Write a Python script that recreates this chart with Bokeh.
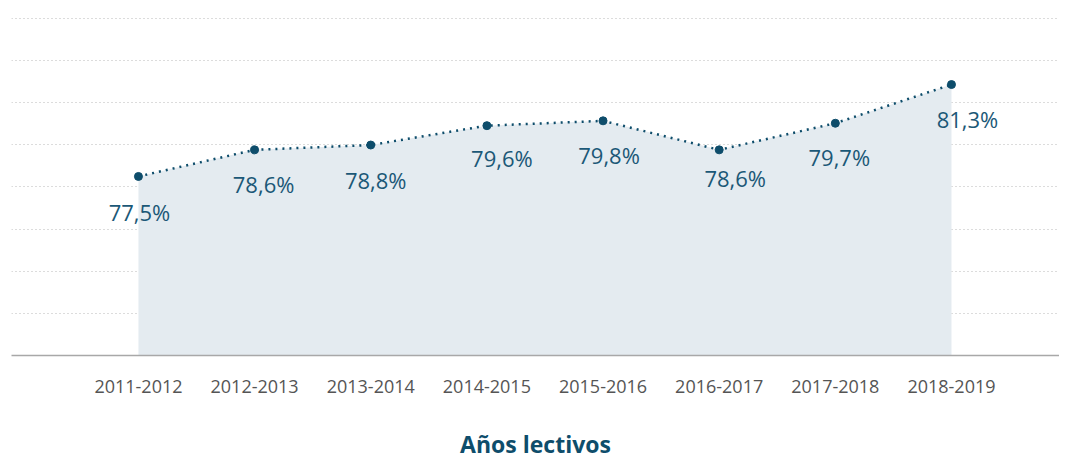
from bokeh.plotting import figure
from bokeh.models import ColumnDataSource, FixedTicker, Range1d, LabelSet
from bokeh.core.properties import value
from bokeh.embed import file_html
from bokeh.resources import INLINE

# ---- data ----
years = ["2011-2012", "2012-2013", "2013-2014", "2014-2015",
         "2015-2016", "2016-2017", "2017-2018", "2018-2019"]
values = [77.5, 78.6, 78.8, 79.6, 79.8, 78.6, 79.7, 81.3]
labels = ["77,5%", "78,6%", "78,8%", "79,6%", "79,8%", "78,6%", "79,7%", "81,3%"]
axis_title = "Años lectivos"

# ---- styling ----
label_dx = [1, 9, 5, 15, 6, 16, 4, 16]        # px nudges of the value labels
label_dy = [-36, -34, -35, -32, -34, -28, -34, -34]
DARK = "#0e4d6b"
y_start = 70.1
y_end = 84.36
grid_step = (84.03 - y_start) / 8

xs = list(range(len(years)))
src = ColumnDataSource(dict(x=xs, y=values, base=[y_start] * len(xs),
                            lab=labels, dx=label_dx, dy=label_dy))

p = figure(width=1059, height=462, output_backend="svg", toolbar_location=None,
           x_range=Range1d(-1.093, 7.93), y_range=Range1d(y_start, y_end),
           min_border_left=11, min_border_right=0, min_border_top=10,
           min_border_bottom=107)
p.outline_line_color = None
p.background_fill_color = "white"
p.border_fill_color = "white"

p.varea(x="x", y1="base", y2="y", source=src, fill_color="#e4ebf0")
p.line(x="x", y="y", source=src, line_color=DARK, line_width=2.5, line_dash="2 5")
p.scatter(x="x", y="y", source=src, size=8, fill_color=DARK, line_color=DARK)

lbl = LabelSet(x="x", y="y", text="lab", source=src, x_offset="dx", y_offset="dy",
               text_align="center", text_baseline="middle",
               text_font=value("Open Sans"),
               text_font_size=value("22px"), text_color="#1b5877")
p.add_layout(lbl)

# axes
p.yaxis.visible = False
p.ygrid.ticker = FixedTicker(ticks=[y_start + grid_step * k for k in range(1, 9)])
p.ygrid.grid_line_color = "#b8b8b8"
p.ygrid.grid_line_dash = "1 3"
p.ygrid.grid_line_width = 1
p.xgrid.visible = False

ax = p.xaxis[0]
ax.ticker = FixedTicker(ticks=xs)
ax.major_label_overrides = {i: y for i, y in enumerate(years)}
ax.major_tick_line_color = None
ax.minor_tick_line_color = None
ax.axis_line_color = "#a8a8a8"
ax.axis_line_width = 1.5
ax.major_label_text_font = "Open Sans"
ax.major_label_text_font_size = "18px"
ax.major_label_text_color = "#555555"
ax.major_label_standoff = 18
ax.axis_label = axis_title
ax.axis_label_text_font = "Open Sans"
ax.axis_label_text_font_style = "bold"
ax.axis_label_text_font_size = "23px"
ax.axis_label_text_color = DARK
ax.axis_label_standoff = 32

open("out.html", "w").write(file_html(p, INLINE))
